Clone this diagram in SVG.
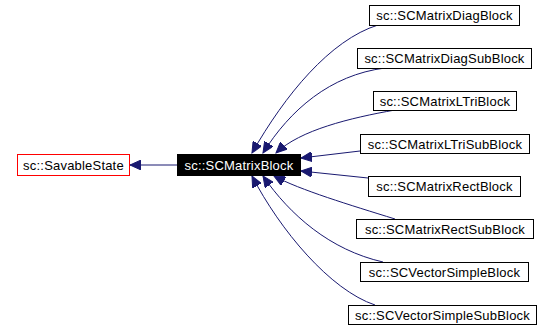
<svg xmlns="http://www.w3.org/2000/svg" width="556" height="329" viewBox="0 0 556 329">
<style>
.box{fill:#fff;stroke:#000;stroke-width:1}
.lbl{font-family:"Liberation Sans",Arial,sans-serif;font-size:13px;letter-spacing:0.2px;text-anchor:middle;fill:#000}
.edge{fill:none;stroke:#191970;stroke-width:1}
</style>
<defs>
<marker id="ah" markerWidth="12" markerHeight="10" refX="11" refY="5" orient="auto" markerUnits="userSpaceOnUse">
<path d="M0,0 L11,5 L0,10 Z" fill="#191970" stroke="#191970"/>
</marker>
</defs>
<rect width="556" height="329" fill="#fff"/>
<g id="connectors">
<path class="edge" d="M177,165 L130,165" marker-end="url(#ah)"/>
<path class="edge" d="M378,25 C330,40 285,95 252,153" marker-end="url(#ah)"/>
<path class="edge" d="M385,68 C330,75 290,110 263,153" marker-end="url(#ah)"/>
<path class="edge" d="M395,110 C350,118 300,130 276,153" marker-end="url(#ah)"/>
<path class="edge" d="M360,151 L301,158" marker-end="url(#ah)"/>
<path class="edge" d="M368,178 L301,171" marker-end="url(#ah)"/>
<path class="edge" d="M395,219 C350,205 300,190 274,176" marker-end="url(#ah)"/>
<path class="edge" d="M383,262 C330,250 290,215 263,176" marker-end="url(#ah)"/>
<path class="edge" d="M375,305 C330,290 280,230 252,176" marker-end="url(#ah)"/>
</g>
<g id="SavableState"><rect x="17.5" y="154.5" width="112" height="21" fill="#fff" stroke="#ff0000"/><text class="lbl" x="73.5" y="169.5">sc::SavableState</text></g>
<g id="SCMatrixBlock"><rect x="177.5" y="154.5" width="123" height="21" fill="#000" stroke="#000"/><text class="lbl" x="239" y="169.5" style="fill:#fff">sc::SCMatrixBlock</text></g>
<g id="SCMatrixDiagBlock"><rect class="box" x="369.5" y="5.5" width="150" height="20"/><text class="lbl" x="444.5" y="20">sc::SCMatrixDiagBlock</text></g>
<g id="SCMatrixDiagSubBlock"><rect class="box" x="357.5" y="48.5" width="174" height="20"/><text class="lbl" x="444.5" y="63">sc::SCMatrixDiagSubBlock</text></g>
<g id="SCMatrixLTriBlock"><rect class="box" x="373.5" y="91.5" width="143" height="19"/><text class="lbl" x="445" y="105.5">sc::SCMatrixLTriBlock</text></g>
<g id="SCMatrixLTriSubBlock"><rect class="box" x="360.5" y="134.5" width="169" height="19"/><text class="lbl" x="445" y="148.5">sc::SCMatrixLTriSubBlock</text></g>
<g id="SCMatrixRectBlock"><rect class="box" x="368.5" y="176.5" width="152" height="20"/><text class="lbl" x="444.5" y="191">sc::SCMatrixRectBlock</text></g>
<g id="SCMatrixRectSubBlock"><rect class="box" x="356.5" y="219.5" width="177" height="19"/><text class="lbl" x="445" y="233.5">sc::SCMatrixRectSubBlock</text></g>
<g id="SCVectorSimpleBlock"><rect class="box" x="360.5" y="262.5" width="168" height="19"/><text class="lbl" x="444.5" y="276.5">sc::SCVectorSimpleBlock</text></g>
<g id="SCVectorSimpleSubBlock"><rect class="box" x="348.5" y="305.5" width="188" height="19"/><text class="lbl" x="442.5" y="319.5">sc::SCVectorSimpleSubBlock</text></g>
</svg>
